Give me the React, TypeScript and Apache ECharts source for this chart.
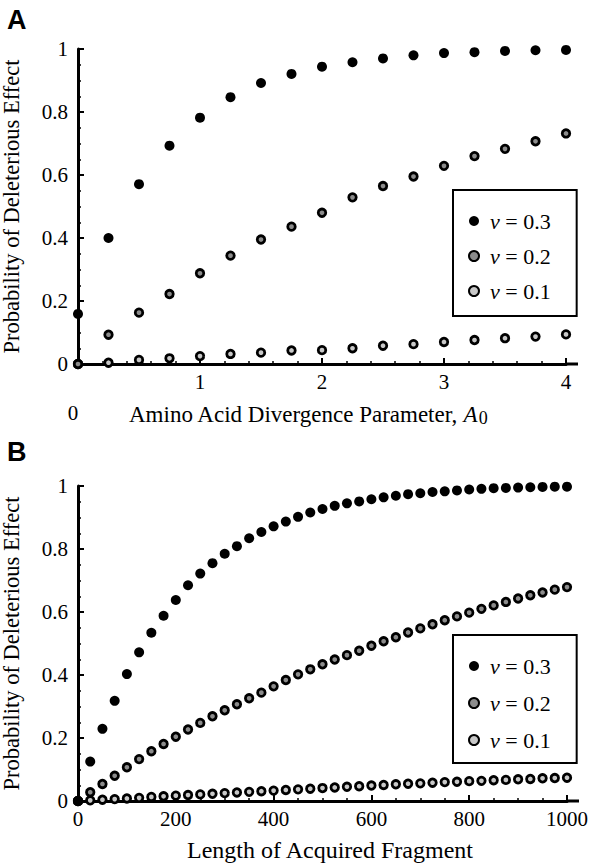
import React, { useEffect, useRef } from 'react';
import * as echarts from 'echarts';

// ---------- Data ----------
const SERIES_NAMES = ['v = 0.3', 'v = 0.2', 'v = 0.1'];

// Panel A: x = amino acid divergence parameter A0
const A_X = [0, 0.25, 0.5, 0.75, 1, 1.25, 1.5, 1.75, 2, 2.25, 2.5, 2.75, 3, 3.25, 3.5, 3.75, 4];
const A_V03 = [0.159, 0.40, 0.571, 0.693, 0.782, 0.847, 0.892, 0.921, 0.944, 0.958, 0.970, 0.980, 0.987, 0.990, 0.994, 0.996, 0.997];
const A_V02 = [0.0, 0.093, 0.163, 0.222, 0.288, 0.344, 0.395, 0.436, 0.48, 0.529, 0.565, 0.595, 0.629, 0.66, 0.683, 0.707, 0.732];
const A_V01 = [0.0, 0.004, 0.013, 0.018, 0.025, 0.032, 0.036, 0.043, 0.044, 0.05, 0.058, 0.063, 0.07, 0.076, 0.082, 0.087, 0.094];

// Panel B: x = length of acquired fragment
const B_X = [0, 25, 50, 75, 100, 125, 150, 175, 200, 225, 250, 275, 300, 325, 350, 375, 400, 425, 450, 475, 500,
  525, 550, 575, 600, 625, 650, 675, 700, 725, 750, 775, 800, 825, 850, 875, 900, 925, 950, 975, 1000];
const B_V03 = [0.0, 0.125, 0.229, 0.318, 0.403, 0.472, 0.534, 0.588, 0.638, 0.685, 0.722, 0.755, 0.785, 0.809, 0.834,
  0.854, 0.872, 0.887, 0.902, 0.916, 0.927, 0.937, 0.945, 0.951, 0.958, 0.964, 0.969, 0.974, 0.977, 0.981, 0.983,
  0.986, 0.989, 0.991, 0.993, 0.994, 0.995, 0.996, 0.997, 0.998, 0.998];
const B_V02 = [0.0, 0.028, 0.054, 0.08, 0.107, 0.133, 0.158, 0.181, 0.204, 0.227, 0.248, 0.269, 0.288, 0.307, 0.326,
  0.344, 0.364, 0.384, 0.402, 0.418, 0.434, 0.449, 0.463, 0.477, 0.493, 0.507, 0.52, 0.535, 0.548, 0.561, 0.574,
  0.586, 0.598, 0.61, 0.621, 0.632, 0.643, 0.653, 0.662, 0.671, 0.679];
const B_V01 = [0.0, 0.002, 0.004, 0.006, 0.008, 0.010, 0.013, 0.015, 0.017, 0.019, 0.021, 0.023, 0.025, 0.027, 0.029,
  0.031, 0.033, 0.035, 0.037, 0.039, 0.041, 0.043, 0.045, 0.047, 0.049, 0.051, 0.053, 0.055, 0.056, 0.058, 0.06,
  0.061, 0.063, 0.064, 0.066, 0.067, 0.069, 0.07, 0.072, 0.073, 0.074];

const A_XTITLE = 'Amino Acid Divergence Parameter, ';
const B_XTITLE = 'Length of Acquired Fragment';
const YTITLE = 'Probability of Deleterious Effect';

// ---------- Styles ----------
const SERIF = "'Liberation Serif', 'Times New Roman', serif";
const SANS = "'Liberation Sans', Arial, sans-serif";
const GA = { left: 78, top: 49, width: 488, height: 315 };
const GB = { left: 78, top: 486, width: 489, height: 315 };

const MARKERS = [
  { symbolSize: 10, itemStyle: { color: '#000', opacity: 1 } },
  { symbolSize: 7.5, itemStyle: { color: '#8c8c8c', borderColor: '#000', borderWidth: 2.8, opacity: 1 } },
  { symbolSize: 7.5, itemStyle: { color: '#c8c8c8', borderColor: '#000', borderWidth: 2.8, opacity: 1 } },
];

const zip = (xs: number[], ys: number[]) => xs.map((x, i) => [x, ys[i]]);

const axisCommon = (minorSplit: number) => ({
  axisLine: { show: true, onZero: false, lineStyle: { color: '#000', width: 3 } },
  axisTick: { show: true, inside: true, length: 6, lineStyle: { color: '#000', width: 2 } },
  minorTick: { show: true, splitNumber: minorSplit, length: 3, lineStyle: { color: '#000', width: 1.5 } },
  splitLine: { show: false },
  minorSplitLine: { show: false },
  nameMoveOverlap: false,
});

const labelStyle = { color: '#000', fontFamily: SERIF, fontSize: 21 };
const titleStyle = { color: '#000', fontFamily: SERIF, fontSize: 23 };
const legendText = { color: '#000', fontFamily: SERIF, fontSize: 22 };

export default function App() {
  const ref = useRef<HTMLDivElement>(null);

  useEffect(() => {
    document.body.style.margin = '0';
    if (!ref.current) return;
    const chart = echarts.init(ref.current, null, { renderer: 'svg' });

    const seriesA = [A_V03, A_V02, A_V01].map((ys, i) => ({
      type: 'scatter', name: SERIES_NAMES[i], xAxisIndex: 0, yAxisIndex: 0,
      data: zip(A_X, ys), symbol: 'circle', ...MARKERS[i], z: 5 - i,
    }));
    const seriesB = [B_V03, B_V02, B_V01].map((ys, i) => ({
      type: 'scatter', name: SERIES_NAMES[i], xAxisIndex: 1, yAxisIndex: 1,
      data: zip(B_X, ys), symbol: 'circle', ...MARKERS[i], z: 5 - i,
    }));

    const legendCommon = {
      orient: 'vertical',
      data: SERIES_NAMES,
      selectedMode: false,
      icon: 'circle',
      itemWidth: 10,
      itemHeight: 10,
      borderColor: '#000',
      borderWidth: 2,
      borderRadius: 0,
      backgroundColor: '#fff',
      formatter: (name: string) => `{i|v}{n|${name.slice(1)}}`,
      textStyle: {
        ...legendText,
        rich: {
          i: { ...legendText, fontStyle: 'italic', padding: [0, 0, 0, 6] },
          n: { ...legendText },
        },
      },
    };

    const option: any = {
      animation: false,
      backgroundColor: '#fff',
      grid: [
        { ...GA, containLabel: false, outerBoundsMode: 'none' },
        { ...GB, containLabel: false, outerBoundsMode: 'none' },
      ],
      xAxis: [
        {
          type: 'value', gridIndex: 0, min: 0, max: 4, interval: 1,
          ...axisCommon(5),
          axisLabel: {
            ...labelStyle, margin: 7,
            formatter: (v: number) => (v === 0 ? '{z|0}' : String(v)),
            rich: { z: { ...labelStyle, padding: [31, 10, 0, 0] } },
          },
          name: `{n|${A_XTITLE}}{i|A}{s|0}`,
          nameLocation: 'middle', nameGap: 37,
          nameTextStyle: {
            ...titleStyle,
            padding: [0, 28, 0, 0],
            rich: {
              n: { ...titleStyle },
              i: { ...titleStyle, fontStyle: 'italic' },
              s: { ...titleStyle, fontSize: 18, padding: [8, 0, 0, 1] },
            },
          },
        },
        {
          type: 'value', gridIndex: 1, min: 0, max: 1000, interval: 200,
          ...axisCommon(4),
          axisLabel: { ...labelStyle, margin: 7, formatter: (v: number) => String(v) },
          name: B_XTITLE, nameLocation: 'middle', nameGap: 37,
          nameTextStyle: { ...titleStyle, fontSize: 24, padding: [0, 0, 0, 15] },
        },
      ],
      yAxis: [
        {
          type: 'value', gridIndex: 0, min: 0, max: 1, interval: 0.2,
          ...axisCommon(4),
          axisLabel: { ...labelStyle, margin: 10, formatter: (v: number) => String(v) },
          name: YTITLE, nameLocation: 'middle', nameRotate: 90, nameGap: 55,
          nameTextStyle: { ...titleStyle, fontSize: 22.5 },
        },
        {
          type: 'value', gridIndex: 1, min: 0, max: 1, interval: 0.2,
          ...axisCommon(4),
          axisLabel: { ...labelStyle, margin: 10, formatter: (v: number) => String(v) },
          name: YTITLE, nameLocation: 'middle', nameRotate: 90, nameGap: 55,
          nameTextStyle: { ...titleStyle, fontSize: 22.5 },
        },
      ],
      legend: [
        { ...legendCommon, left: 453, top: 190, itemGap: 13, padding: [20, 26, 14, 15] },
        { ...legendCommon, left: 453, top: 635, itemGap: 15, padding: [20, 26, 12, 15] },
      ],
      graphic: [
        {
          type: 'text', left: 7, top: 6,
          style: { text: 'A', fontFamily: SANS, fontWeight: 'bold', fontSize: 27, fill: '#000' },
        },
        {
          type: 'text', left: 7, top: 438,
          style: { text: 'B', fontFamily: SANS, fontWeight: 'bold', fontSize: 27, fill: '#000' },
        },
        {
          type: 'line',
          shape: { x1: GA.left + GA.width - 1, y1: GA.top + GA.height, x2: GA.left + GA.width + 12, y2: GA.top + GA.height },
          style: { stroke: '#000', lineWidth: 3 },
        },
        {
          type: 'line',
          shape: { x1: GB.left + GB.width - 1, y1: GB.top + GB.height, x2: GB.left + GB.width + 12, y2: GB.top + GB.height },
          style: { stroke: '#000', lineWidth: 3 },
        },
      ],
      series: [...seriesA, ...seriesB],
    };

    chart.setOption(option);
    return () => chart.dispose();
  }, []);

  return <div ref={ref} style={{ width: 594, height: 863 }} />;
}
